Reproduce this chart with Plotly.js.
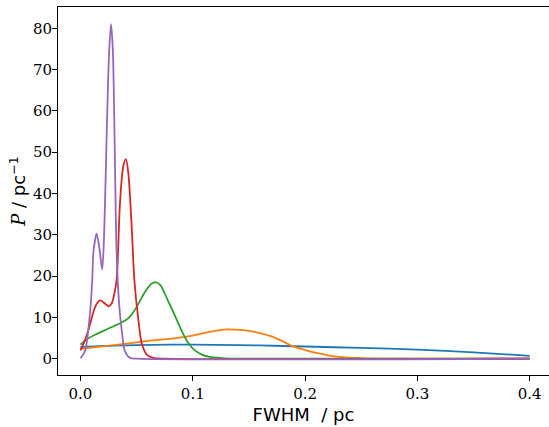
<!DOCTYPE html>
<html>
<head>
<meta charset="utf-8">
<script src="https://cdn.plot.ly/plotly-3.0.1.min.js"></script>
<style>
html, body { margin: 0; padding: 0; overflow: hidden; background: #fff; }
#chart { width: 549px; height: 427px; }
</style>
</head>
<body>
<div id="chart"></div>
<script>
// Series (x = FWHM in pc, y = P in pc^-1)
var blueX = [0, 0.02, 0.05, 0.08, 0.12, 0.16, 0.2, 0.25, 0.3, 0.35, 0.4];
var blueY = [2.8, 3.1, 3.3, 3.4, 3.35, 3.2, 2.95, 2.6, 2.2, 1.55, 0.7];

var orangeX = [0, 0.03, 0.06, 0.085, 0.1, 0.115, 0.13, 0.145, 0.155, 0.17, 0.18, 0.19, 0.2, 0.21, 0.22, 0.23, 0.25, 0.27, 0.3, 0.4];
var orangeY = [2.4, 3.3, 4.3, 5.0, 5.6, 6.5, 7.1, 6.9, 6.5, 5.4, 4.2, 2.9, 2.1, 1.4, 0.8, 0.45, 0.15, 0.03, 0, 0];

var greenX = [0, 0.005, 0.013, 0.025, 0.037, 0.043, 0.048, 0.053, 0.058, 0.063, 0.067, 0.071, 0.078, 0.084, 0.09, 0.096, 0.102, 0.108, 0.114, 0.126, 0.14, 0.16, 0.4];
var greenY = [3.4, 4.6, 5.8, 7.3, 8.8, 9.9, 11.6, 14.0, 16.4, 18.1, 18.5, 17.9, 14.0, 10.5, 6.8, 3.8, 2.0, 1.0, 0.5, 0.15, 0.02, 0, 0];

var redX = [0, 0.004, 0.008, 0.013, 0.0175, 0.022, 0.025, 0.028, 0.030, 0.0322, 0.0352, 0.0381, 0.0405, 0.0426, 0.0456, 0.048, 0.0515, 0.0545, 0.059, 0.065, 0.075, 0.4];
var redY = [2.0, 4.5, 7.8, 12.5, 14.1, 13.3, 12.7, 13.5, 15.5, 19.0, 37.7, 46.6, 48.3, 45.0, 32.0, 19.0, 9.5, 3.8, 1.0, 0.2, 0, 0];

var purpleX = [0, 0.004, 0.0085, 0.0105, 0.0115, 0.0144, 0.017, 0.0194, 0.0213, 0.0233, 0.0255, 0.0272, 0.0288, 0.0301, 0.0322, 0.0345, 0.0367, 0.0396, 0.044, 0.05, 0.4];
var purpleY = [0.1, 1.8, 11.0, 19.0, 25.7, 30.3, 26.5, 21.6, 32.0, 54.0, 74.0, 81.0, 75.0, 58.0, 25.6, 13.0, 7.0, 1.8, 0.2, 0, 0];

var xTicks = [0, 0.1, 0.2, 0.3, 0.4];
var xTickText = ["0.0", "0.1", "0.2", "0.3", "0.4"];
var yTicks = [0, 10, 20, 30, 40, 50, 60, 70, 80];
var yTickText = ["0", "10", "20", "30", "40", "50", "60", "70", "80"];

var colors = ["#1f77b4", "#ff7f0e", "#2ca02c", "#d62728", "#9467bd"];
var series = [[blueX, blueY], [orangeX, orangeY], [greenX, greenY], [redX, redY], [purpleX, purpleY]];

var traces = series.map(function (s, i) {
  return {
    x: s[0], y: s[1], type: "scatter", mode: "lines",
    line: { color: colors[i], width: 1.8, shape: "spline", smoothing: 0.8 },
    showlegend: false, hoverinfo: "skip"
  };
});

var tickFont = { family: "DejaVu Serif, Liberation Serif, serif", size: 15, color: "#000" };

var layout = {
  width: 549, height: 427,
  margin: { l: 58, r: 0, t: 7, b: 52 },
  paper_bgcolor: "#fff", plot_bgcolor: "#fff",
  xaxis: {
    range: [-0.02, 0.4172],
    tickvals: xTicks, ticktext: xTickText,
    ticks: "outside", ticklen: 5, tickwidth: 1, tickcolor: "#000",
    showline: true, mirror: true, linecolor: "#000", linewidth: 1,
    showgrid: false, zeroline: false,
    tickfont: tickFont,
    title: { text: "FWHM\u00a0\u00a0/ pc", font: { family: "DejaVu Sans, sans-serif", size: 18, color: "#000" }, standoff: 6 }
  },
  yaxis: {
    range: [-3.95, 85.15],
    tickvals: yTicks, ticktext: yTickText,
    ticks: "outside", ticklen: 5, tickwidth: 1, tickcolor: "#000",
    ticklabelstandoff: -3,
    showline: true, mirror: false, linecolor: "#000", linewidth: 1,
    showgrid: false, zeroline: false,
    tickfont: tickFont,
    title: { text: "<span style=\"font-family:'DejaVu Serif';font-style:italic\">P</span> / pc<sup>\u22121</sup>", font: { family: "DejaVu Sans, sans-serif", size: 18, color: "#000" }, standoff: 2 }
  }
};

Plotly.newPlot("chart", traces, layout, { displayModeBar: false, staticPlot: true });
</script>
</body>
</html>
